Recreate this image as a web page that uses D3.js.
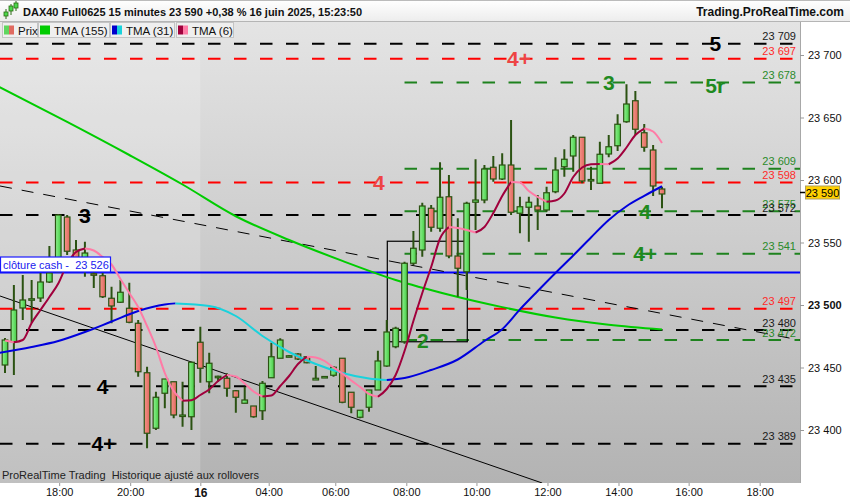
<!DOCTYPE html>
<html><head><meta charset="utf-8">
<script src="https://cdn.jsdelivr.net/npm/d3@7"></script>
<style>
body{margin:0;background:#fff;}
svg{display:block;font-family:"Liberation Sans",Arial,sans-serif;}
text.pre{white-space:pre;}
</style></head><body>
<svg id="c" width="850" height="500"></svg>
<script>
// ---- candle data (15 min) ----
const opens  = [23452,23470.6,23497.6,23504,23505.6,23518.4,23526.4,23570.4,23544,23536,23525,23523.4,23505.4,23502.2,23497.4,23485.4,23445.8,23401.4,23429.4,23438.6,23411,23410.6,23470.2,23438.6,23442,23441.4,23431.4,23421.4,23419.2,23415.4,23441.8,23457.4,23459,23460.8,23458.6,23440,23442.4,23443.8,23457.4,23430.2,23410.2,23418.2,23432,23451.2,23466.6,23470.6,23533.4,23544,23577.4,23561.4,23586.6,23539.2,23526.6,23582.2,23584,23610.2,23600.8,23612,23573.4,23578.2,23579.2,23576,23590.6,23610.6,23619.2,23634.2,23599.6,23597.4,23620.8,23627.4,23646.6,23663.4,23637.8,23624,23592.8];
const highs  = [23473.6,23516,23524,23520,23525.6,23547.2,23572.8,23572,23552,23550.6,23532,23525.6,23514.6,23520,23517.8,23488,23450.6,23430.6,23440.8,23438.6,23438.6,23454.6,23482.6,23461.8,23443.4,23445.4,23432,23434.6,23419.2,23439.2,23469.8,23473.4,23460,23461.4,23459.2,23451.2,23443,23451.2,23457.4,23430.2,23415.8,23432,23463.4,23488,23482.6,23534.6,23559.2,23581.8,23580,23614.2,23604,23569.4,23582.6,23616.6,23612,23619.2,23621.4,23648,23586.6,23586.6,23588,23594.6,23618.2,23624.6,23636,23634.2,23610.6,23630.6,23636,23652.6,23676.6,23671.2,23644.8,23628,23594.6];
const lows   = [23445.6,23444,23488,23485.6,23502.4,23517.6,23526,23540,23536,23522.6,23513.6,23505.6,23485.4,23501.6,23485.4,23442.6,23385.4,23400,23417.4,23409.4,23402.6,23400,23437.8,23429.4,23438.6,23426.6,23413.8,23421.4,23409.8,23408,23441.8,23457.4,23458.6,23456,23453.4,23440,23442,23442.6,23421.4,23413.4,23409.4,23414.6,23432,23450.6,23465.4,23469,23532,23538.6,23558.6,23558.6,23537.4,23506.6,23512,23560,23581.4,23598.6,23600,23572,23557.4,23550.6,23560,23574.6,23589.4,23602.6,23606.6,23597.4,23592,23597.4,23618.2,23623.2,23645.8,23636,23622.6,23587.2,23577.4];
const closes = [23472,23496,23504,23505,23518.4,23525.6,23572,23543,23538,23541.6,23524,23506.6,23499.2,23510.2,23486.2,23446.6,23397.4,23426.2,23440.8,23412,23412,23454.2,23449.4,23453.4,23443,23433.4,23426.2,23424,23410.6,23437.4,23458.6,23472,23459.4,23456.8,23453.8,23441.4,23442.8,23450.2,23422.2,23418.2,23415.8,23432,23455.2,23478.4,23481.4,23533.4,23545.4,23579.2,23562.2,23586.2,23539.2,23529.4,23581.4,23584,23608.8,23600.8,23612,23574.2,23578.6,23582.2,23576,23589.8,23608,23616.6,23634.2,23599.2,23600.4,23620.6,23626.6,23644.6,23660.8,23640.6,23626.2,23595.2,23588.8];

// ---- indicators ----
const tma6 = [23471.6,23470.2,23472,23485.6,23496,23506.4,23517.2,23532.8,23542.4,23545.2,23543.6,23538.4,23532.4,23520.8,23509.6,23498.4,23483.2,23466.4,23445.6,23431.2,23423.4,23423.8,23428,23432.4,23439.2,23444,23442.8,23437.2,23430.8,23426.8,23427.6,23435.2,23443.2,23452.8,23458.6,23458,23455.2,23450,23445.2,23439.6,23434.4,23428.8,23426.6,23432.8,23444,23463.2,23487.2,23509.6,23530.4,23553.2,23562.4,23561.6,23560,23558,23562.4,23573.6,23587.2,23598.4,23598,23591.2,23586.4,23582.6,23583.6,23589.2,23602.4,23610,23612.6,23612.8,23612.6,23617.2,23626,23636,23641.2,23638.8,23629.6];
const tma31Idx = [-0.6,3,6,9,12,15,18,19.2,23,26,29,32,35,38,41,43,45,48,51,54,56,58,60,62,64,66,68,70,72,74];
const tma31Val = [23461.8,23466.4,23471.2,23478.4,23486.8,23495.2,23500.4,23501.3,23499.2,23491.2,23475.2,23462.4,23452.8,23445.6,23441.2,23440,23441.6,23448,23456.4,23471.2,23480.6,23496.5,23511.2,23525.6,23539.6,23554,23568,23579,23587.3,23595];
const tma155Idx = [-0.6,7,14,20,26,32,38,44,50,56,62,68,74];
const tma155Val = [23674.2,23646.5,23620,23596.4,23571,23552,23535.3,23520,23508.2,23498.3,23490,23484.2,23480.4];

// ---- horizontal levels ----
const levelValues = [23709,23697,23678,23609,23598,23575,23572,23541,23497,23480,23472,23435,23389];
const levelKinds  = ['black','red','green','green','red','green','black','green','red','black','green','black','black'];
const levelStart  = [null,null,45,45,null,45,null,45,null,null,45,null,null];
const cashClose = 23526;
const lastPrice = 23590;

// ---- annotations ----
const annoTexts = ['5','4+','3','5r','4','3','4','4+','2','4','4+'];
const annoIdx   = [80,57.9,68,80,42.1,9,72.1,72.1,47.05,11,11.1];
const annoVals  = [23709,23697,23678,23676,23598,23572,23575,23541,23472,23435,23389];
const annoKinds = ['black','red','green','green','red','black','green','green','green','black','black'];

// ---- trend lines / box (index, price) ----
const trendSolid  = [[-0.56,23507.2],[60.5,23357.6]];
const trendDashed = [[-0.56,23595.2],[89.5,23472]];
const boxCorners  = [[43.06,23551],[52.07,23470.6]];

// ---- axes ----
const xTickIdx = [6.1,14.1,22,29.7,37.2,45.2,53.1,61.1,69.1,77,85];
const xTickLabels = ['18:00','20:00','16','04:00','06:00','08:00','10:00','12:00','14:00','16:00','18:00'];
const yTicks = [23400,23450,23500,23550,23600,23650,23700];
const sessionStartIdx = 22;

// ================= drawing =================
const svg = d3.select('#c');
const PL=0, PR=800, PT=22, PB=483;
const x = d3.scaleLinear().domain([0,74]).range([5,662]);
const y = d3.scaleLinear().domain([23400,23700]).range([430,55]);
const fmt = v => d3.format(',')(Math.round(v)).replace(',', ' ');
const kindColor = {black:'#000000', red:'#ff0000', green:'#1e821e'};
const labelColor = {black:'#1a1a1a', red:'#ff2a2a', green:'#2a8a2a'};
const annoColor = {black:'#000000', red:'#ee4444', green:'#1f8a1f'};

const defs = svg.append('defs');
const bg = defs.append('linearGradient').attr('id','bg').attr('x1',0).attr('x2',0).attr('y1',0).attr('y2',1);
bg.append('stop').attr('offset','0%').attr('stop-color','#e4e4e4');
bg.append('stop').attr('offset','100%').attr('stop-color','#b3b3b3');
const hd = defs.append('linearGradient').attr('id','hd').attr('x1',0).attr('x2',0).attr('y1',0).attr('y2',1);
hd.append('stop').attr('offset','0%').attr('stop-color','#ffffff');
hd.append('stop').attr('offset','100%').attr('stop-color','#ededed');
const gg = defs.append('linearGradient').attr('id','gfill');
gg.append('stop').attr('offset','0%').attr('stop-color','#8ef28e');
gg.append('stop').attr('offset','100%').attr('stop-color','#46cc46');
const rg = defs.append('linearGradient').attr('id','rfill');
rg.append('stop').attr('offset','0%').attr('stop-color','#f59488');
rg.append('stop').attr('offset','100%').attr('stop-color','#e0675e');
defs.append('clipPath').attr('id','plot').append('rect').attr('x',PL).attr('y',PT).attr('width',PR-PL).attr('height',PB-PT);

// background
svg.append('rect').attr('x',PL).attr('y',PT).attr('width',PR-PL).attr('height',PB-PT).attr('fill','url(#bg)');
svg.append('rect').attr('x',PL).attr('y',PT).attr('width',x(sessionStartIdx)-PL).attr('height',PB-PT).attr('fill','#ffffff').attr('opacity',0.18);

const plot = svg.append('g').attr('clip-path','url(#plot)');

// levels
levelValues.forEach((v,i)=>{
  const x0 = levelStart[i]===null ? PL : x(levelStart[i]);
  plot.append('line').attr('x1',x0).attr('x2',PR).attr('y1',y(v)).attr('y2',y(v))
    .attr('stroke',kindColor[levelKinds[i]]).attr('stroke-width',2).attr('stroke-dasharray','12.5 13.5');
});
// cash close line
plot.append('line').attr('x1',PL).attr('x2',PR).attr('y1',y(cashClose)).attr('y2',y(cashClose)).attr('stroke','#0000ff').attr('stroke-width',2);

// trend lines
plot.append('line').attr('x1',x(trendSolid[0][0])).attr('y1',y(trendSolid[0][1])).attr('x2',x(trendSolid[1][0])).attr('y2',y(trendSolid[1][1]))
  .attr('stroke','#000').attr('stroke-width',1);
plot.append('line').attr('x1',x(trendDashed[0][0])).attr('y1',y(trendDashed[0][1])).attr('x2',x(trendDashed[1][0])).attr('y2',y(trendDashed[1][1]))
  .attr('stroke','#000').attr('stroke-width',1).attr('stroke-dasharray','12 10');
// box
plot.append('rect').attr('x',x(boxCorners[0][0])).attr('y',y(boxCorners[0][1]))
  .attr('width',x(boxCorners[1][0])-x(boxCorners[0][0])).attr('height',y(boxCorners[1][1])-y(boxCorners[0][1]))
  .attr('fill','none').attr('stroke','#000').attr('stroke-width',1.2);

// TMA155
const lineGen = d3.line().x(d=>x(d[0])).y(d=>y(d[1])).curve(d3.curveMonotoneX);
plot.append('path').attr('d',lineGen(tma155Idx.map((d,i)=>[d,tma155Val[i]]))).attr('fill','none').attr('stroke','#00cc00').attr('stroke-width',2);

// candles
const candles = opens.map((o,i)=>({i,o,h:highs[i],l:lows[i],c:closes[i]}));
const cg = plot.append('g');
const bw = 5.6;
cg.selectAll('line.w').data(candles).join('line')
  .attr('x1',d=>x(d.i)).attr('x2',d=>x(d.i)).attr('y1',d=>y(d.h)).attr('y2',d=>y(d.l))
  .attr('stroke','#2b5212').attr('stroke-width',2);
cg.selectAll('rect.b').data(candles).join('rect')
  .attr('x',d=>x(d.i)-bw/2).attr('width',bw)
  .attr('y',d=>y(Math.max(d.o,d.c))).attr('height',d=>Math.max(1.5,Math.abs(y(d.o)-y(d.c))))
  .attr('fill',d=>d.c>=d.o?'url(#gfill)':'url(#rfill)')
  .attr('stroke','#2b5212').attr('stroke-width',1.2);

// TMA31 / TMA6 coloured by direction
function runs(points){
  const out=[]; let cur=[points[0]]; let up=null;
  for(let k=1;k<points.length;k++){
    const u = points[k][1]>=points[k-1][1];
    if(up===null||u===up){cur.push(points[k]);}
    else{out.push({up,pts:cur}); cur=[points[k-1],points[k]];}
    up=u;
  }
  out.push({up,pts:cur});
  return out;
}
runs(tma31Idx.map((d,i)=>[d,tma31Val[i]])).forEach(r=>{
  plot.append('path').attr('d',lineGen(r.pts)).attr('fill','none').attr('stroke',r.up?'#0000dd':'#19d2dc').attr('stroke-width',2);
});
runs(tma6.map((v,i)=>[i,v])).forEach(r=>{
  plot.append('path').attr('d',lineGen(r.pts)).attr('fill','none').attr('stroke',r.up?'#a0003c':'#ff7ba6').attr('stroke-width',2);
});

// level value labels
levelValues.forEach((v,i)=>{
  svg.append('text').attr('x',796).attr('y',y(v)-3.5).attr('text-anchor','end')
    .attr('font-size',11).attr('fill',labelColor[levelKinds[i]]).text(fmt(v));
});

// annotations
annoTexts.forEach((t,i)=>{
  svg.append('text').attr('x',x(annoIdx[i])).attr('y',y(annoVals[i])+7.5).attr('text-anchor','middle')
    .attr('font-size',21).attr('font-weight','bold').attr('fill',annoColor[annoKinds[i]]).text(t);
});

// cash close label
const cy = y(cashClose);
svg.append('rect').attr('x',0.5).attr('y',cy-15.5).attr('width',110).attr('height',15).attr('fill','#fff').attr('stroke','#1a1aff').attr('stroke-width',1.2);
svg.append('text').attr('class','pre').attr('x',3).attr('y',cy-4).attr('font-size',11).attr('fill','#2020ee').text('clôture cash -  ' + fmt(cashClose));

// footer
svg.append('text').attr('class','pre').attr('x',2).attr('y',479).attr('font-size',11).attr('fill','#222').text('ProRealTime Trading  Historique ajusté aux rollovers');

// right axis
svg.append('rect').attr('x',PR).attr('y',PT).attr('width',50).attr('height',478).attr('fill','#fff');
svg.append('line').attr('x1',PR+0.5).attr('x2',PR+0.5).attr('y1',PT).attr('y2',PB).attr('stroke','#a8a8a8');
const ya = svg.append('g').attr('transform',`translate(${PR},0)`).call(d3.axisRight(y).tickValues(yTicks).tickSize(4).tickPadding(4).tickFormat(fmt));
ya.select('.domain').remove();
ya.selectAll('line').attr('stroke','#999');
ya.selectAll('text').attr('font-size',11).attr('font-family','"Liberation Sans",Arial,sans-serif').attr('fill','#111')
  .attr('font-weight',d=>d===23500?'bold':'normal');
// last price marker
svg.append('line').attr('x1',PR).attr('x2',PR+5).attr('y1',y(lastPrice)).attr('y2',y(lastPrice)).attr('stroke','#000').attr('stroke-width',1.5);
svg.append('rect').attr('x',805.5).attr('y',y(lastPrice)-6.5).attr('width',34).attr('height',13).attr('fill','#ffd000').attr('stroke','#b0a060');
svg.append('text').attr('x',822.5).attr('y',y(lastPrice)+4).attr('text-anchor','middle').attr('font-size',11).attr('fill','#000').text(fmt(lastPrice));

// bottom axis
svg.append('rect').attr('x',0).attr('y',PB).attr('width',850).attr('height',17).attr('fill','#fff');
const xa = svg.append('g').attr('transform',`translate(0,${PB})`).call(d3.axisBottom(x).tickValues(xTickIdx).tickSize(3).tickPadding(2).tickFormat((d,i)=>xTickLabels[i]));
xa.select('.domain').remove();
xa.selectAll('line').attr('stroke','#999');
xa.selectAll('text').attr('font-family','"Liberation Sans",Arial,sans-serif').attr('fill','#111')
  .attr('font-weight',(d,i)=>xTickLabels[i]==='16'?'bold':'normal').attr('font-size',(d,i)=>xTickLabels[i]==='16'?12:11);

// header
svg.append('rect').attr('x',0).attr('y',0).attr('width',850).attr('height',21).attr('fill','url(#hd)');
svg.append('line').attr('x1',0).attr('x2',850).attr('y1',0.5).attr('y2',0.5).attr('stroke','#bbb');
svg.append('line').attr('x1',0).attr('x2',850).attr('y1',21.5).attr('y2',21.5).attr('stroke','#b5b5b5');
const icon = svg.append('g').attr('fill','#4cd84c').attr('stroke','#2b6a12');
[[6,12,16,9,19],[11,6,11,4,15],[16,3,8,1,11]].forEach(a=>{
  icon.append('line').attr('x1',a[0]).attr('x2',a[0]).attr('y1',a[3]).attr('y2',a[4]).attr('stroke-width',1);
  icon.append('rect').attr('x',a[0]-2).attr('y',a[1]).attr('width',4).attr('height',a[2]-a[1]).attr('stroke-width',0.8);
});
svg.append('text').attr('x',23).attr('y',15.5).attr('font-size',11).attr('font-weight','bold').attr('fill','#111')
  .text('DAX40 Full0625 15 minutes 23 590 +0,38 % 16 juin 2025, 15:23:50');
svg.append('text').attr('x',844).attr('y',15.5).attr('text-anchor','end').attr('font-size',12).attr('font-weight','bold').attr('fill','#111')
  .text('Trading.ProRealTime.com');

// legend
const legend = [
  {t:'Prix', c:['#5fd65f','#e06a60'], x0:2, w:35},
  {t:'TMA (155)', c:['#00cc00','#00cc00'], x0:38, w:71},
  {t:'TMA (31)', c:['#0000cc','#19d2dc'], x0:110, w:64},
  {t:'TMA (6)', c:['#a0003c','#ff7ba6'], x0:176, w:57}
];
legend.forEach(L=>{
  svg.append('rect').attr('x',L.x0+0.5).attr('y',22.5).attr('width',L.w).attr('height',15).attr('fill','#efefef').attr('stroke','#c4c4c4');
  svg.append('rect').attr('x',L.x0+2).attr('y',25.5).attr('width',5).attr('height',9).attr('fill',L.c[0]);
  svg.append('rect').attr('x',L.x0+7).attr('y',25.5).attr('width',5).attr('height',9).attr('fill',L.c[1]);
  svg.append('text').attr('x',L.x0+16).attr('y',34.5).attr('font-size',11.5).attr('fill','#111').text(L.t);
});
</script>
</body></html>
